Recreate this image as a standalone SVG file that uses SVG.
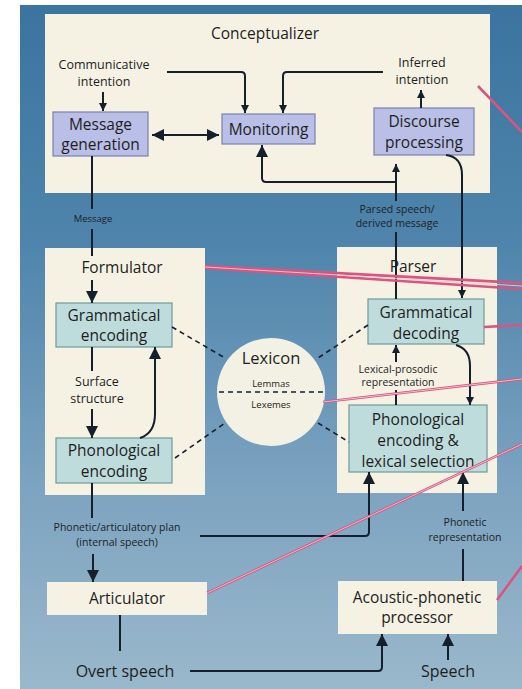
<svg xmlns="http://www.w3.org/2000/svg" width="522" height="689" viewBox="0 0 522 689">
<defs>
<linearGradient id="bg" x1="0" y1="0" x2="0" y2="1">
<stop offset="0" stop-color="#3a749f"/>
<stop offset="0.35" stop-color="#4f85ac"/>
<stop offset="0.7" stop-color="#7ca3c0"/>
<stop offset="1" stop-color="#9ab8cb"/>
</linearGradient>
<marker id="ah" viewBox="0 0 12 12" refX="12" refY="6" markerWidth="12" markerHeight="12" markerUnits="userSpaceOnUse" orient="auto-start-reverse">
<path d="M0,0 L12,6 L0,12 z" fill="#15202c"/>
</marker>
<marker id="as" viewBox="0 0 8 8" refX="8" refY="4" markerWidth="8" markerHeight="8" markerUnits="userSpaceOnUse" orient="auto">
<path d="M0,0 L8,4 L0,8 z" fill="#15202c"/>
</marker>
</defs>
<style>
text{font-family:"Open Sans","Noto Sans","DejaVu Sans",sans-serif;fill:#1e1e1e;text-anchor:middle}
.big{font-size:15.5px}
.md{font-size:12.5px}
.sm{font-size:10.5px}
.xs{font-size:9.5px}
.panel{fill:#f5f2e4}
.cbox{fill:#b9bfe6;stroke:#7b82ab;stroke-width:1.2}
.tbox{fill:#bfdcdc;stroke:#6f9999;stroke-width:1.2}
.ln{fill:none;stroke:#15202c;stroke-width:2}
.dash{fill:none;stroke:#15202c;stroke-width:1.6;stroke-dasharray:5 4}
.pink{fill:none;stroke:#d9557f;stroke-width:2.6}
.pinkc{fill:none;stroke:#f6c3d0;stroke-width:0.9}
</style>
<rect x="0" y="0" width="522" height="689" fill="#ffffff"/>
<rect x="20" y="5" width="502" height="684" fill="url(#bg)"/>

<g id="conceptualizer">
<rect class="panel" x="45" y="14" width="445" height="179"/>
<text class="big" x="265" y="39">Conceptualizer</text>
<text class="md" x="104" y="69">Communicative</text>
<text class="md" x="104" y="86">intention</text>
<text class="md" x="422" y="67">Inferred</text>
<text class="md" x="422" y="84">intention</text>
</g>
<g id="message-generation">
<rect class="cbox" x="53" y="112" width="95" height="44"/>
<text class="big" x="100.5" y="130">Message</text>
<text class="big" x="100.5" y="150">generation</text>
</g>
<g id="monitoring">
<rect class="cbox" x="222" y="114" width="93" height="30"/>
<text class="big" x="268.5" y="135">Monitoring</text>
</g>
<g id="discourse-processing">
<rect class="cbox" x="374" y="108" width="100" height="47"/>
<text class="big" x="424" y="127">Discourse</text>
<text class="big" x="424" y="148">processing</text>
</g>

<g id="formulator">
<rect class="panel" x="45" y="248" width="160" height="247"/>
<text class="big" x="122" y="273">Formulator</text>
<text class="md" x="97" y="386">Surface</text>
<text class="md" x="97" y="403">structure</text>
</g>
<g id="grammatical-encoding">
<rect class="tbox" x="56" y="303" width="116" height="44"/>
<text class="big" x="114" y="321">Grammatical</text>
<text class="big" x="114" y="341">encoding</text>
</g>
<g id="phonological-encoding">
<rect class="tbox" x="56" y="438" width="116" height="45"/>
<text class="big" x="114" y="456">Phonological</text>
<text class="big" x="114" y="477">encoding</text>
</g>

<g id="lexicon">
<circle cx="271" cy="392" r="54" fill="#f3f1e4"/>
<text class="big" x="271" y="364" style="font-size:16.5px">Lexicon</text>
<text class="xs" x="271" y="387">Lemmas</text>
<line class="dash" x1="219" y1="392" x2="323" y2="392"/>
<text class="xs" x="271" y="408">Lexemes</text>
</g>

<g id="parser">
<rect class="panel" x="337" y="247" width="160" height="246"/>
<text class="big" x="413" y="272">Parser</text>
<text class="sm" x="398" y="373">Lexical-prosodic</text>
<text class="sm" x="398" y="386">representation</text>
</g>
<g id="grammatical-decoding">
<rect class="tbox" x="368" y="299" width="116" height="45"/>
<text class="big" x="426" y="318">Grammatical</text>
<text class="big" x="426" y="339">decoding</text>
</g>
<g id="phonological-encoding-lexical-selection">
<rect class="tbox" x="349" y="405" width="138" height="67"/>
<text class="big" x="418" y="425">Phonological</text>
<text class="big" x="418" y="446">encoding &amp;</text>
<text class="big" x="418" y="467">lexical selection</text>
</g>

<g id="articulator">
<rect class="panel" x="47" y="582" width="160" height="33"/>
<text class="big" x="127" y="604">Articulator</text>
</g>
<g id="acoustic-phonetic-processor">
<rect class="panel" x="338" y="581" width="159" height="53"/>
<text class="big" x="417" y="603">Acoustic-phonetic</text>
<text class="big" x="417" y="623">processor</text>
</g>

<g id="labels">
<text class="xs" x="93" y="222">Message</text>
<text class="sm" x="397" y="213">Parsed speech/</text>
<text class="sm" x="397" y="227">derived message</text>
<text class="sm" x="117" y="531">Phonetic/articulatory plan</text>
<text class="sm" x="117" y="546">(internal speech)</text>
<text class="sm" x="465" y="526">Phonetic</text>
<text class="sm" x="465" y="541">representation</text>
<text class="big" x="125" y="677" style="font-size:16px">Overt speech</text>
<text class="big" x="448" y="677" style="font-size:16px">Speech</text>
</g>

<g id="connectors">
<path class="ln" d="M103,92 V111" marker-end="url(#as)"/>
<path class="ln" d="M152,135 H219" marker-start="url(#ah)" marker-end="url(#ah)"/>
<path class="ln" d="M167,72 H241 Q245,72 245,76 V113" marker-end="url(#as)"/>
<path class="ln" d="M383,72 H287 Q283,72 283,76 V113" marker-end="url(#as)"/>
<path class="ln" d="M421,108 V90" marker-end="url(#as)"/>
<path class="ln" d="M396,182 H266 Q262,182 262,178 V145" marker-end="url(#ah)"/>
<path class="ln" d="M396,201 V164" marker-end="url(#as)"/>
<path class="ln" d="M396,299 V232"/>
<path class="ln" d="M446,155 Q462,157 462,175 V298" marker-end="url(#as)"/>
<path class="ln" d="M92,156 V209"/>
<path class="ln" d="M92,229 V256"/>
<path class="ln" d="M92,280 V303" marker-end="url(#ah)"/>
<path class="ln" d="M92,347 V371"/>
<path class="ln" d="M92,409 V438" marker-end="url(#ah)"/>
<path class="ln" d="M140,438 Q155,433 155,414 V347" marker-end="url(#ah)"/>
<path class="dash" d="M172,327 L225,358"/>
<path class="dash" d="M175,458 L225,423"/>
<path class="dash" d="M368,325 L318,358"/>
<path class="dash" d="M318,423 L349,442"/>
<path class="ln" d="M396,405 V390"/>
<path class="ln" d="M396,362 V345" marker-end="url(#as)"/>
<path class="ln" d="M456,345 Q470,349 470,366 V405" marker-end="url(#as)"/>
<path class="ln" d="M92,483 V518"/>
<path class="ln" d="M93,554 V582" marker-end="url(#ah)"/>
<path class="ln" d="M200,536 H365 Q369,536 369,532 V472" marker-end="url(#ah)"/>
<path class="ln" d="M463,581 V549"/>
<path class="ln" d="M463,511 V472" marker-end="url(#ah)"/>
<path class="ln" d="M120,615 V651"/>
<path class="ln" d="M190,671 H378 Q382,671 382,667 V634" marker-end="url(#ah)"/>
<path class="ln" d="M448,660 V634" marker-end="url(#ah)"/>
</g>

<g id="pink-leaders">
<path class="pink" d="M205,266 L522,283 M205,268 L522,289 M484,327 L522,325 M323,402 L522,379 M207,593 L522,444 M497,600 L522,566 M478,86 L522,132"/>
<path class="pinkc" d="M205,267 L522,286 M323,402 L522,379 M207,593 L522,444"/>
</g>
</svg>
